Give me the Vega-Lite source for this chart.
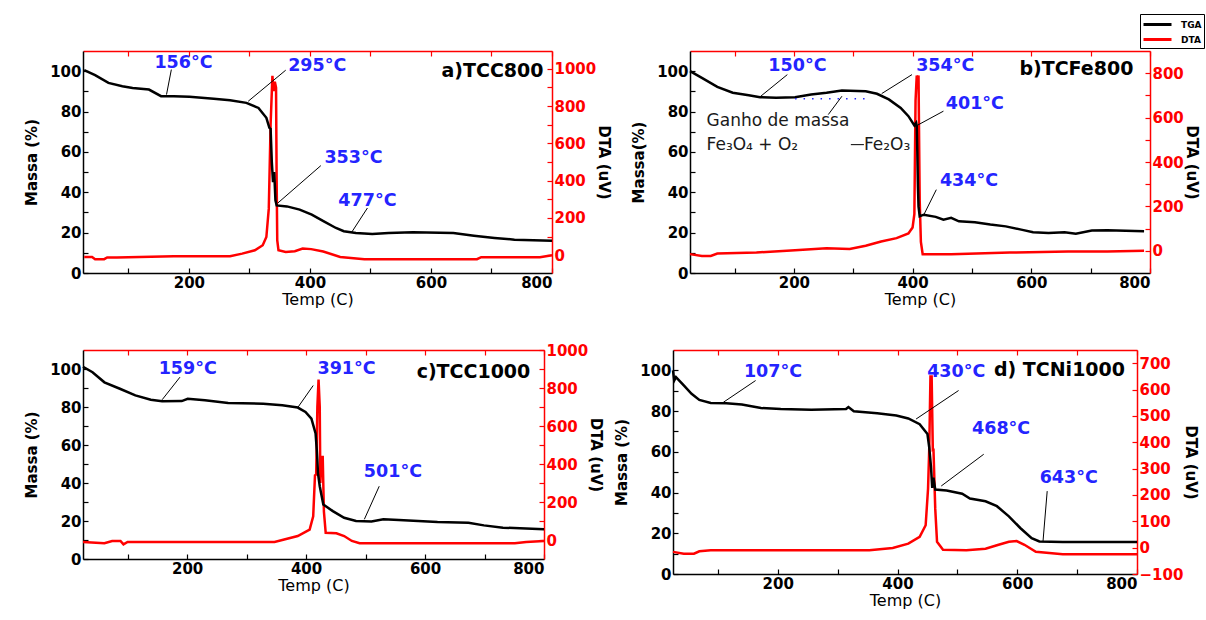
{
 "$schema": "https://vega.github.io/schema/vega-lite/v6.json",
 "background": "white",
 "padding": {"left": 24, "top": 13, "right": 3, "bottom": 3},
 "datasets": {
  "tga": [
   {"p":"a","T":27,"M":100.5},{"p":"a","T":45,"M":98},{"p":"a","T":67,"M":94.2},{"p":"a","T":90,"M":92.5},{"p":"a","T":107,"M":91.7},{"p":"a","T":134,"M":90.9},{"p":"a","T":154,"M":87.6},{"p":"a","T":175,"M":87.6},{"p":"a","T":201,"M":87.3},{"p":"a","T":241,"M":86.3},{"p":"a","T":268,"M":85.6},{"p":"a","T":295,"M":84.3},{"p":"a","T":315,"M":81.8},{"p":"a","T":328,"M":76.9},{"p":"a","T":333,"M":71.9},{"p":"a","T":335,"M":71.4},{"p":"a","T":337,"M":55},{"p":"a","T":339,"M":45},{"p":"a","T":341,"M":50},{"p":"a","T":343,"M":36},{"p":"a","T":345,"M":33.5},{"p":"a","T":362,"M":33},{"p":"a","T":383,"M":31.4},{"p":"a","T":403,"M":28.9},{"p":"a","T":423,"M":25.6},{"p":"a","T":443,"M":22.3},{"p":"a","T":456,"M":20.7},{"p":"a","T":476,"M":19.8},{"p":"a","T":503,"M":19.3},{"p":"a","T":530,"M":19.8},{"p":"a","T":570,"M":20.2},{"p":"a","T":637,"M":19.8},{"p":"a","T":671,"M":18.5},{"p":"a","T":705,"M":17.4},{"p":"a","T":738,"M":16.5},{"p":"a","T":800,"M":16},
   {"p":"b","T":25,"M":100},{"p":"b","T":45,"M":96.7},{"p":"b","T":71,"M":92.2},{"p":"b","T":97,"M":89.3},{"p":"b","T":124,"M":88.1},{"p":"b","T":143,"M":87.1},{"p":"b","T":170,"M":86.8},{"p":"b","T":202,"M":87.1},{"p":"b","T":229,"M":88.4},{"p":"b","T":255,"M":89.3},{"p":"b","T":281,"M":90.4},{"p":"b","T":321,"M":90.1},{"p":"b","T":340,"M":88.8},{"p":"b","T":360,"M":86},{"p":"b","T":380,"M":81.8},{"p":"b","T":393,"M":77.7},{"p":"b","T":403,"M":73.1},{"p":"b","T":406,"M":74.4},{"p":"b","T":407,"M":72.9},{"p":"b","T":408,"M":60},{"p":"b","T":409,"M":43},{"p":"b","T":410,"M":33},{"p":"b","T":412,"M":28.1},{"p":"b","T":419,"M":28.9},{"p":"b","T":439,"M":27.8},{"p":"b","T":452,"M":26.4},{"p":"b","T":465,"M":27.3},{"p":"b","T":478,"M":25.6},{"p":"b","T":505,"M":25.1},{"p":"b","T":531,"M":24},{"p":"b","T":557,"M":23.1},{"p":"b","T":583,"M":21.5},{"p":"b","T":603,"M":20.2},{"p":"b","T":629,"M":19.8},{"p":"b","T":656,"M":20.2},{"p":"b","T":675,"M":19.5},{"p":"b","T":702,"M":21},{"p":"b","T":728,"M":21.2},{"p":"b","T":790,"M":20.7},
   {"p":"c","T":25,"M":101.2},{"p":"c","T":41,"M":98.3},{"p":"c","T":61,"M":93},{"p":"c","T":87,"M":89.6},{"p":"c","T":113,"M":86.1},{"p":"c","T":139,"M":83.8},{"p":"c","T":158,"M":83},{"p":"c","T":191,"M":83.1},{"p":"c","T":201,"M":84.3},{"p":"c","T":230,"M":83.5},{"p":"c","T":269,"M":82.1},{"p":"c","T":328,"M":81.7},{"p":"c","T":360,"M":80.9},{"p":"c","T":386,"M":79.7},{"p":"c","T":399,"M":77.4},{"p":"c","T":409,"M":73.9},{"p":"c","T":416,"M":66.1},{"p":"c","T":418,"M":57.4},{"p":"c","T":419,"M":52.2},{"p":"c","T":420,"M":45.2},{"p":"c","T":423,"M":38.3},{"p":"c","T":429,"M":28.7},{"p":"c","T":445,"M":25.2},{"p":"c","T":464,"M":21.7},{"p":"c","T":484,"M":20},{"p":"c","T":510,"M":19.7},{"p":"c","T":530,"M":20.9},{"p":"c","T":556,"M":20.5},{"p":"c","T":621,"M":19.5},{"p":"c","T":673,"M":19.1},{"p":"c","T":699,"M":17.7},{"p":"c","T":731,"M":16.5},{"p":"c","T":800,"M":15.7},
   {"p":"d","T":25,"M":100},{"p":"d","T":27,"M":95},{"p":"d","T":30,"M":96.7},{"p":"d","T":43,"M":92.6},{"p":"d","T":56,"M":88.5},{"p":"d","T":69,"M":85.5},{"p":"d","T":88,"M":84},{"p":"d","T":114,"M":83.9},{"p":"d","T":140,"M":83.2},{"p":"d","T":172,"M":81.5},{"p":"d","T":205,"M":81},{"p":"d","T":256,"M":80.7},{"p":"d","T":314,"M":81},{"p":"d","T":318,"M":82},{"p":"d","T":327,"M":79.9},{"p":"d","T":366,"M":78.9},{"p":"d","T":398,"M":77.8},{"p":"d","T":418,"M":76.4},{"p":"d","T":437,"M":73.6},{"p":"d","T":450,"M":68.7},{"p":"d","T":453,"M":62.1},{"p":"d","T":456,"M":52.2},{"p":"d","T":458,"M":42.3},{"p":"d","T":460,"M":47.3},{"p":"d","T":463,"M":41.5},{"p":"d","T":482,"M":41},{"p":"d","T":508,"M":39.4},{"p":"d","T":521,"M":37.1},{"p":"d","T":547,"M":35.7},{"p":"d","T":566,"M":33.3},{"p":"d","T":586,"M":28.3},{"p":"d","T":605,"M":22.6},{"p":"d","T":624,"M":17.6},{"p":"d","T":637,"M":16},{"p":"d","T":676,"M":15.7},{"p":"d","T":800,"M":15.7}
  ],
  "dta": [
   {"p":"a","T":27,"D":-9},{"p":"a","T":40,"D":-9},{"p":"a","T":45,"D":-21},{"p":"a","T":60,"D":-21},{"p":"a","T":65,"D":-12},{"p":"a","T":81,"D":-12},{"p":"a","T":175,"D":-5},{"p":"a","T":268,"D":-5},{"p":"a","T":288,"D":9},{"p":"a","T":309,"D":27},{"p":"a","T":322,"D":54},{"p":"a","T":328,"D":98},{"p":"a","T":332,"D":250},{"p":"a","T":335,"D":700},{"p":"a","T":338,"D":962},{"p":"a","T":340,"D":880},{"p":"a","T":342,"D":930},{"p":"a","T":344,"D":898},{"p":"a","T":345,"D":400},{"p":"a","T":346,"D":80},{"p":"a","T":348,"D":27},{"p":"a","T":360,"D":18},{"p":"a","T":375,"D":22},{"p":"a","T":388,"D":36},{"p":"a","T":402,"D":33},{"p":"a","T":422,"D":20},{"p":"a","T":450,"D":-9},{"p":"a","T":490,"D":-21},{"p":"a","T":676,"D":-21},{"p":"a","T":683,"D":-10},{"p":"a","T":780,"D":-10},{"p":"a","T":800,"D":0},
   {"p":"b","T":25,"D":-15},{"p":"b","T":45,"D":-23},{"p":"b","T":60,"D":-23},{"p":"b","T":71,"D":-12},{"p":"b","T":137,"D":-8},{"p":"b","T":202,"D":3},{"p":"b","T":255,"D":12},{"p":"b","T":294,"D":8},{"p":"b","T":321,"D":23},{"p":"b","T":347,"D":42},{"p":"b","T":373,"D":57},{"p":"b","T":393,"D":78},{"p":"b","T":400,"D":105},{"p":"b","T":403,"D":165},{"p":"b","T":405,"D":677},{"p":"b","T":407,"D":789},{"p":"b","T":409,"D":770},{"p":"b","T":410,"D":790},{"p":"b","T":411,"D":500},{"p":"b","T":412,"D":226},{"p":"b","T":414,"D":40},{"p":"b","T":417,"D":-15},{"p":"b","T":465,"D":-15},{"p":"b","T":564,"D":-8},{"p":"b","T":662,"D":-3},{"p":"b","T":728,"D":-3},{"p":"b","T":790,"D":0},
   {"p":"c","T":25,"D":-10},{"p":"c","T":61,"D":-17},{"p":"c","T":74,"D":-5},{"p":"c","T":88,"D":-5},{"p":"c","T":93,"D":-23},{"p":"c","T":100,"D":-10},{"p":"c","T":230,"D":-10},{"p":"c","T":347,"D":-10},{"p":"c","T":360,"D":0},{"p":"c","T":386,"D":21},{"p":"c","T":406,"D":55},{"p":"c","T":412,"D":125},{"p":"c","T":415,"D":340},{"p":"c","T":417,"D":345},{"p":"c","T":419,"D":700},{"p":"c","T":421,"D":844},{"p":"c","T":423,"D":700},{"p":"c","T":424,"D":300},{"p":"c","T":426,"D":437},{"p":"c","T":428,"D":437},{"p":"c","T":430,"D":150},{"p":"c","T":433,"D":38},{"p":"c","T":451,"D":35},{"p":"c","T":464,"D":21},{"p":"c","T":477,"D":-5},{"p":"c","T":490,"D":-17},{"p":"c","T":556,"D":-17},{"p":"c","T":751,"D":-17},{"p":"c","T":770,"D":-10},{"p":"c","T":800,"D":-5},
   {"p":"d","T":25,"D":-16},{"p":"d","T":43,"D":-23},{"p":"d","T":60,"D":-23},{"p":"d","T":69,"D":-14},{"p":"d","T":88,"D":-10},{"p":"d","T":224,"D":-10},{"p":"d","T":353,"D":-10},{"p":"d","T":392,"D":-1},{"p":"d","T":418,"D":15},{"p":"d","T":437,"D":41},{"p":"d","T":447,"D":85},{"p":"d","T":451,"D":224},{"p":"d","T":453,"D":376},{"p":"d","T":455,"D":649},{"p":"d","T":457,"D":649},{"p":"d","T":459,"D":364},{"p":"d","T":460,"D":376},{"p":"d","T":463,"D":148},{"p":"d","T":466,"D":22},{"p":"d","T":476,"D":-8},{"p":"d","T":515,"D":-10},{"p":"d","T":547,"D":-4},{"p":"d","T":566,"D":9},{"p":"d","T":586,"D":22},{"p":"d","T":599,"D":25},{"p":"d","T":612,"D":11},{"p":"d","T":631,"D":-16},{"p":"d","T":676,"D":-25},{"p":"d","T":800,"D":-25}
  ],
  "temps": [
   {"p":"a","T":191,"M":104,"t":"156°C"},{"p":"a","T":412,"M":102.5,"t":"295°C"},{"p":"a","T":472,"M":57,"t":"353°C"},{"p":"a","T":495,"M":35.5,"t":"477°C"},
   {"p":"b","T":206,"M":102.5,"t":"150°C"},{"p":"b","T":455,"M":102.5,"t":"354°C"},{"p":"b","T":505,"M":83.5,"t":"401°C"},{"p":"b","T":495,"M":45.5,"t":"434°C"},
   {"p":"c","T":201,"M":100,"t":"159°C"},{"p":"c","T":468,"M":100,"t":"391°C"},{"p":"c","T":546,"M":46,"t":"501°C"},
   {"p":"d","T":192,"M":99.2,"t":"107°C"},{"p":"d","T":498,"M":99.2,"t":"430°C"},{"p":"d","T":573,"M":71.2,"t":"468°C"},{"p":"d","T":686,"M":47.3,"t":"643°C"}
  ],
  "names": [
   {"p":"a","T":786,"M":100,"t":"a)TCC800"},
   {"p":"b","T":772,"M":101,"t":"b)TCFe800"},
   {"p":"c","T":777,"M":98.3,"t":"c)TCC1000"},
   {"p":"d","T":780,"M":100,"t":"d) TCNi1000"}
  ],
  "notes": [
   {"p":"b","T":53,"M":75.2,"t":"Ganho de massa"},
   {"p":"b","T":53,"M":63.6,"t":"Fe₃O₄ + O₂"},
   {"p":"b","T":318,"M":63.6,"t":"Fe₂O₃"}
  ],
  "arrows": [
   {"p":"a","T":171,"M":100.8,"T2":163,"M2":88.4},{"p":"a","T":360,"M":100.5,"T2":298,"M2":85.1},{"p":"a","T":418,"M":53.2,"T2":347,"M2":34.7},{"p":"a","T":495,"M":32.2,"T2":469,"M2":20.2},
   {"p":"b","T":189,"M":98.3,"T2":143,"M2":87.3},{"p":"b","T":399,"M":98.3,"T2":348,"M2":88.9},{"p":"b","T":452,"M":80.2,"T2":405,"M2":72.7},{"p":"b","T":440,"M":41.3,"T2":419,"M2":28.9},{"p":"b","T":258,"M":78.5,"T2":281,"M2":87.6},{"p":"b","T":296,"M":63.6,"T2":318,"M2":63.6},
   {"p":"c","T":188,"M":95.7,"T2":158,"M2":83.8},{"p":"c","T":412,"M":91.3,"T2":386,"M2":79.7},{"p":"c","T":523,"M":38.3,"T2":498,"M2":20.9},
   {"p":"d","T":163,"M":95,"T2":109,"M2":84.3},{"p":"d","T":502,"M":90.1,"T2":431,"M2":76.1},{"p":"d","T":544,"M":58.8,"T2":473,"M2":43.2},{"p":"d","T":650,"M":40.7,"T2":643,"M2":16}
  ],
  "dots": [
   {"p":"b","T":202,"M":86.4,"T2":321}
  ]
 },
 "vconcat": [
  {
   "spacing": 20,
   "hconcat": [
    {
     "width": 469, "height": 222,
     "layer": [
      {
       "data": {"name": "dta"},
       "transform": [{"filter": "datum.p == 'a'"}],
       "mark": {"type": "line", "strokeWidth": 2.5},
       "encoding": {
        "x": {"field": "T", "type": "quantitative", "scale": {"domain": [25, 800], "nice": false, "zero": false}, "axis": {"orient": "top", "values": [100,200,300,400,500,600,700,800], "labels": false, "title": null, "domainColor": "red", "tickColor": "red"}},
        "y": {"field": "D", "type": "quantitative", "scale": {"domain": [-95, 1095], "nice": false, "zero": false}, "axis": {"orient": "right", "values": [0,100,200,300,400,500,600,700,800,900,1000], "labelExpr": "datum.value % 200 == 0 ? datum.label : ''", "title": "DTA (uV)", "titlePadding": 0, "labelColor": "red", "domainColor": "red", "tickColor": "red", "format": "d"}},
        "color": {"datum": "DTA", "type": "nominal", "scale": {"domain": ["TGA", "DTA"], "range": ["black", "red"]}, "legend": {"title": null}}
       }
      },
      {
       "encoding": {
        "x": {"field": "T", "type": "quantitative", "scale": {"domain": [25, 800], "nice": false, "zero": false}, "axis": {"orient": "bottom", "values": [100,200,300,400,500,600,700,800], "labelExpr": "datum.value % 200 == 0 ? datum.label : ''", "title": "Temp (C)", "titleFontWeight": "normal", "titleFontSize": 16, "titlePadding": 1}},
        "y": {"field": "M", "type": "quantitative", "scale": {"domain": [0, 110], "nice": false, "zero": false}, "axis": {"orient": "left", "values": [0,10,20,30,40,50,60,70,80,90,100], "labelExpr": "datum.value % 20 == 0 ? datum.label : ''", "title": "Massa (%)", "titlePadding": 10}}
       },
       "layer": [
        {"data": {"name": "tga"}, "transform": [{"filter": "datum.p == 'a'"}], "mark": {"type": "line", "strokeWidth": 2.5}, "encoding": {"color": {"datum": "TGA", "type": "nominal", "legend": {"title": null}}}},
        {"data": {"name": "arrows"}, "transform": [{"filter": "datum.p == 'a'"}], "mark": {"type": "rule", "color": "black", "strokeWidth": 1}, "encoding": {"x2": {"field": "T2"}, "y2": {"field": "M2"}}},
        {"data": {"name": "temps"}, "transform": [{"filter": "datum.p == 'a'"}], "mark": {"type": "text", "color": "#2424ff", "fontSize": 17.5, "fontWeight": "bold"}, "encoding": {"text": {"field": "t"}}},
        {"data": {"name": "names"}, "transform": [{"filter": "datum.p == 'a'"}], "mark": {"type": "text", "color": "black", "fontSize": 19, "fontWeight": "bold", "align": "right"}, "encoding": {"text": {"field": "t"}}}
       ]
      }
     ],
     "resolve": {"scale": {"y": "independent"}, "axis": {"x": "independent", "y": "independent"}}
    },
    {
     "width": 460, "height": 222,
     "layer": [
      {
       "data": {"name": "dta"},
       "transform": [{"filter": "datum.p == 'b'"}],
       "mark": {"type": "line", "strokeWidth": 2.5},
       "encoding": {
        "x": {"field": "T", "type": "quantitative", "scale": {"domain": [25, 800], "nice": false, "zero": false}, "axis": {"orient": "top", "values": [100,200,300,400,500,600,700,800], "labels": false, "title": null, "domainColor": "red", "tickColor": "red"}},
        "y": {"field": "D", "type": "quantitative", "scale": {"domain": [-100, 900], "nice": false, "zero": false}, "axis": {"orient": "right", "values": [0,100,200,300,400,500,600,700,800], "labelExpr": "datum.value % 200 == 0 ? datum.label : ''", "title": "DTA (uV)", "titlePadding": 0, "labelColor": "red", "domainColor": "red", "tickColor": "red", "format": "d"}},
        "color": {"datum": "DTA", "type": "nominal", "legend": {"title": null}}
       }
      },
      {
       "encoding": {
        "x": {"field": "T", "type": "quantitative", "scale": {"domain": [25, 800], "nice": false, "zero": false}, "axis": {"orient": "bottom", "values": [100,200,300,400,500,600,700,800], "labelExpr": "datum.value % 200 == 0 ? datum.label : ''", "title": "Temp (C)", "titleFontWeight": "normal", "titleFontSize": 16, "titlePadding": 1}},
        "y": {"field": "M", "type": "quantitative", "scale": {"domain": [0, 110], "nice": false, "zero": false}, "axis": {"orient": "left", "values": [0,10,20,30,40,50,60,70,80,90,100], "labelExpr": "datum.value % 20 == 0 ? datum.label : ''", "title": "Massa(%)", "titlePadding": 10}}
       },
       "layer": [
        {"data": {"name": "tga"}, "transform": [{"filter": "datum.p == 'b'"}], "mark": {"type": "line", "strokeWidth": 2.5}, "encoding": {"color": {"datum": "TGA", "type": "nominal", "legend": {"title": null}}}},
        {"data": {"name": "dots"}, "transform": [{"filter": "datum.p == 'b'"}], "mark": {"type": "rule", "color": "#2424ff", "strokeWidth": 1.5, "strokeDash": [1.5, 7]}, "encoding": {"x2": {"field": "T2"}}},
        {"data": {"name": "arrows"}, "transform": [{"filter": "datum.p == 'b'"}], "mark": {"type": "rule", "color": "black", "strokeWidth": 1}, "encoding": {"x2": {"field": "T2"}, "y2": {"field": "M2"}}},
        {"data": {"name": "temps"}, "transform": [{"filter": "datum.p == 'b'"}], "mark": {"type": "text", "color": "#2424ff", "fontSize": 17.5, "fontWeight": "bold"}, "encoding": {"text": {"field": "t"}}},
        {"data": {"name": "notes"}, "transform": [{"filter": "datum.p == 'b'"}], "mark": {"type": "text", "color": "#1a1a1a", "fontSize": 17, "align": "left"}, "encoding": {"text": {"field": "t"}}},
        {"data": {"name": "names"}, "transform": [{"filter": "datum.p == 'b'"}], "mark": {"type": "text", "color": "black", "fontSize": 19, "fontWeight": "bold", "align": "right"}, "encoding": {"text": {"field": "t"}}}
       ]
      }
     ],
     "resolve": {"scale": {"y": "independent"}, "axis": {"x": "independent", "y": "independent"}}
    }
   ]
  },
  {
   "spacing": 11,
   "hconcat": [
    {
     "width": 461, "height": 209,
     "layer": [
      {
       "data": {"name": "dta"},
       "transform": [{"filter": "datum.p == 'c'"}],
       "mark": {"type": "line", "strokeWidth": 2.5},
       "encoding": {
        "x": {"field": "T", "type": "quantitative", "scale": {"domain": [25, 800], "nice": false, "zero": false}, "axis": {"orient": "top", "values": [100,200,300,400,500,600,700,800], "labels": false, "title": null, "domainColor": "red", "tickColor": "red"}},
        "y": {"field": "D", "type": "quantitative", "scale": {"domain": [-100, 1000], "nice": false, "zero": false}, "axis": {"orient": "right", "values": [0,100,200,300,400,500,600,700,800,900,1000], "labelExpr": "datum.value % 200 == 0 ? datum.label : ''", "title": "DTA (uV)", "titlePadding": 0, "labelColor": "red", "domainColor": "red", "tickColor": "red", "format": "d"}},
        "color": {"datum": "DTA", "type": "nominal", "legend": {"title": null}}
       }
      },
      {
       "encoding": {
        "x": {"field": "T", "type": "quantitative", "scale": {"domain": [25, 800], "nice": false, "zero": false}, "axis": {"orient": "bottom", "values": [100,200,300,400,500,600,700,800], "labelExpr": "datum.value % 200 == 0 ? datum.label : ''", "title": "Temp (C)", "titleFontWeight": "normal", "titleFontSize": 16, "titlePadding": 1}},
        "y": {"field": "M", "type": "quantitative", "scale": {"domain": [0, 110], "nice": false, "zero": false}, "axis": {"orient": "left", "values": [0,10,20,30,40,50,60,70,80,90,100], "labelExpr": "datum.value % 20 == 0 ? datum.label : ''", "title": "Massa (%)", "titlePadding": 10}}
       },
       "layer": [
        {"data": {"name": "tga"}, "transform": [{"filter": "datum.p == 'c'"}], "mark": {"type": "line", "strokeWidth": 2.5}, "encoding": {"color": {"datum": "TGA", "type": "nominal", "legend": {"title": null}}}},
        {"data": {"name": "arrows"}, "transform": [{"filter": "datum.p == 'c'"}], "mark": {"type": "rule", "color": "black", "strokeWidth": 1}, "encoding": {"x2": {"field": "T2"}, "y2": {"field": "M2"}}},
        {"data": {"name": "temps"}, "transform": [{"filter": "datum.p == 'c'"}], "mark": {"type": "text", "color": "#2424ff", "fontSize": 17.5, "fontWeight": "bold"}, "encoding": {"text": {"field": "t"}}},
        {"data": {"name": "names"}, "transform": [{"filter": "datum.p == 'c'"}], "mark": {"type": "text", "color": "black", "fontSize": 19, "fontWeight": "bold", "align": "right"}, "encoding": {"text": {"field": "t"}}}
       ]
      }
     ],
     "resolve": {"scale": {"y": "independent"}, "axis": {"x": "independent", "y": "independent"}}
    },
    {
     "width": 464, "height": 224,
     "layer": [
      {
       "data": {"name": "dta"},
       "transform": [{"filter": "datum.p == 'd'"}],
       "mark": {"type": "line", "strokeWidth": 2.5},
       "encoding": {
        "x": {"field": "T", "type": "quantitative", "scale": {"domain": [25, 800], "nice": false, "zero": false}, "axis": {"orient": "top", "values": [100,200,300,400,500,600,700,800], "labels": false, "title": null, "domainColor": "red", "tickColor": "red"}},
        "y": {"field": "D", "type": "quantitative", "scale": {"domain": [-100, 750], "nice": false, "zero": false}, "axis": {"orient": "right", "values": [-100,0,100,200,300,400,500,600,700], "title": "DTA (uV)", "titlePadding": 0, "labelColor": "red", "domainColor": "red", "tickColor": "red", "format": "d"}},
        "color": {"datum": "DTA", "type": "nominal", "legend": {"title": null}}
       }
      },
      {
       "encoding": {
        "x": {"field": "T", "type": "quantitative", "scale": {"domain": [25, 800], "nice": false, "zero": false}, "axis": {"orient": "bottom", "values": [100,200,300,400,500,600,700,800], "labelExpr": "datum.value % 200 == 0 ? datum.label : ''", "title": "Temp (C)", "titleFontWeight": "normal", "titleFontSize": 16, "titlePadding": 1}},
        "y": {"field": "M", "type": "quantitative", "scale": {"domain": [0, 110], "nice": false, "zero": false}, "axis": {"orient": "left", "values": [0,10,20,30,40,50,60,70,80,90,100], "labelExpr": "datum.value % 20 == 0 ? datum.label : ''", "title": "Massa (%)", "titlePadding": 10}}
       },
       "layer": [
        {"data": {"name": "tga"}, "transform": [{"filter": "datum.p == 'd'"}], "mark": {"type": "line", "strokeWidth": 2.5}, "encoding": {"color": {"datum": "TGA", "type": "nominal", "legend": {"title": null}}}},
        {"data": {"name": "arrows"}, "transform": [{"filter": "datum.p == 'd'"}], "mark": {"type": "rule", "color": "black", "strokeWidth": 1}, "encoding": {"x2": {"field": "T2"}, "y2": {"field": "M2"}}},
        {"data": {"name": "temps"}, "transform": [{"filter": "datum.p == 'd'"}], "mark": {"type": "text", "color": "#2424ff", "fontSize": 17.5, "fontWeight": "bold"}, "encoding": {"text": {"field": "t"}}},
        {"data": {"name": "names"}, "transform": [{"filter": "datum.p == 'd'"}], "mark": {"type": "text", "color": "black", "fontSize": 19, "fontWeight": "bold", "align": "right"}, "encoding": {"text": {"field": "t"}}}
       ]
      }
     ],
     "resolve": {"scale": {"y": "independent"}, "axis": {"x": "independent", "y": "independent"}}
    }
   ]
  }
 ],
 "spacing": 36,
 "config": {
  "view": {"stroke": null},
  "font": "DejaVu Sans",
  "text": {"font": "DejaVu Sans"},
  "axis": {"labelFont": "DejaVu Sans", "labelFontSize": 15, "labelFontWeight": "bold", "labelColor": "black", "titleFont": "DejaVu Sans", "titleFontSize": 15, "titleFontWeight": "bold", "titleColor": "black", "grid": false, "domainColor": "black", "domainWidth": 1.5, "tickColor": "black", "tickSize": -5, "tickWidth": 1.2, "labelPadding": 7, "titlePadding": 4},
  "legend": {"orient": "none", "legendX": 1057, "legendY": -37, "strokeColor": "black", "fillColor": "white", "padding": 2, "labelFont": "DejaVu Sans", "labelFontSize": 9, "labelFontWeight": "bold", "symbolStrokeWidth": 3, "symbolSize": 196, "symbolType": "M-2,0H2", "symbolOffset": 7, "rowPadding": 0, "labelOffset": 15, "cornerRadius": 0}
 }
}
